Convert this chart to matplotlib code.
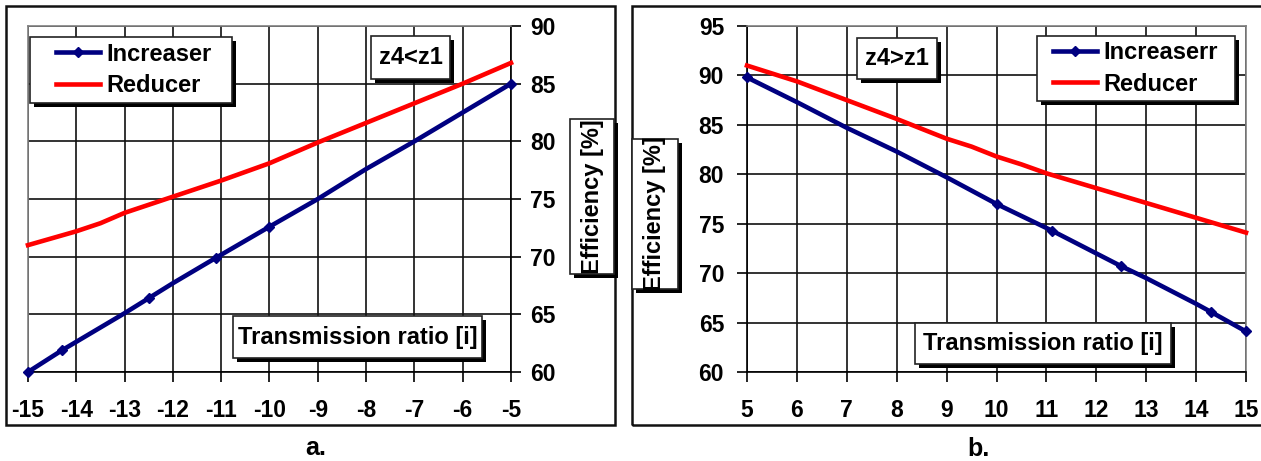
import matplotlib
matplotlib.use("Agg")
import matplotlib.pyplot as plt
from matplotlib.patches import Rectangle

plt.rcParams["font.family"] = ["Liberation Sans", "DejaVu Sans"]
plt.rcParams["font.weight"] = "bold"
plt.rcParams["axes.unicode_minus"] = False

# ---- data: panel a (z4 < z1), negative transmission ratios ----
a_inc_x = [-15, -14.29, -13, -12.5, -12, -11.11, -10, -9, -8, -7, -6, -5]
a_inc_y = [60.0, 61.9, 65.1, 66.4, 67.7, 69.9, 72.6, 75.0, 77.6, 80.0, 82.5, 85.0]
a_inc_marks = [0, 1, 3, 5, 6, 11]
a_red_x = [-15, -14, -13.5, -13, -12, -11, -10, -9, -8, -7, -6, -5]
a_red_y = [71.0, 72.2, 72.9, 73.8, 75.2, 76.6, 78.1, 79.9, 81.6, 83.3, 85.0, 86.8]

# ---- data: panel b (z4 > z1), positive transmission ratios ----
b_inc_x = [5, 6, 7, 8, 9, 10, 11.11, 12.5, 13, 14, 14.29, 15]
b_inc_y = [89.8, 87.3, 84.7, 82.3, 79.7, 77.0, 74.3, 70.7, 69.5, 66.9, 66.1, 64.1]
b_inc_marks = [0, 5, 6, 7, 10, 11]
b_red_x = [5, 6, 7, 8, 9, 9.5, 10, 10.5, 11, 12, 13, 14, 15]
b_red_y = [91.0, 89.4, 87.5, 85.6, 83.6, 82.8, 81.8, 81.0, 80.1, 78.6, 77.1, 75.6, 74.1]

a_xticks = list(range(-15, -4))
b_xticks = list(range(5, 16))
a_yticks = [60, 65, 70, 75, 80, 85, 90]
b_yticks = [60, 65, 70, 75, 80, 85, 90, 95]

W, H = 1261, 461
fig = plt.figure(figsize=(W / 100, H / 100), dpi=100)

NAVY = "#000080"
RED = "#ff0000"
GRID = "#111111"
GRAY = "#808080"
FS_TICK = 16.5
FS_TEXT = 17
LW = 3.3


def fx(x):
    return x / W


def fy(y):
    return 1 - y / H


def axes_px(x0, y0, x1, y1):
    return fig.add_axes([fx(x0), fy(y1), fx(x1) - fx(x0), fy(y0) - fy(y1)])


def panel_frame(x0, y0, x1, y1):
    fig.add_artist(Rectangle((fx(x0), fy(y1)), fx(x1) - fx(x0), fy(y0) - fy(y1),
                             transform=fig.transFigure, facecolor="none",
                             edgecolor="#111111", lw=1.8, zorder=1))


def shadow_box(x0, y0, x1, y1, off=4):
    fig.add_artist(Rectangle((fx(x0 + off), fy(y1 + off)), fx(x1) - fx(x0), fy(y0) - fy(y1),
                             transform=fig.transFigure, facecolor="black",
                             edgecolor="black", lw=0, zorder=10))
    fig.add_artist(Rectangle((fx(x0), fy(y1)), fx(x1) - fx(x0), fy(y0) - fy(y1),
                             transform=fig.transFigure, facecolor="white",
                             edgecolor="#222222", lw=1.2, zorder=11))


def label_box(x0, y0, x1, y1, text, rotation=0):
    shadow_box(x0, y0, x1, y1)
    fig.text(fx((x0 + x1) / 2), fy((y0 + y1) / 2), text, ha="center", va="center",
             fontsize=FS_TEXT, fontweight="bold", rotation=rotation, zorder=12)


def style_axes(ax, yside):
    ax.grid(True, color=GRID, lw=1.2)
    ax.set_axisbelow(True)
    ax.tick_params(axis="both", direction="out", length=7, width=1.2, color="black",
                   labelsize=FS_TICK)
    ax.tick_params(axis="x", pad=12.5)
    for lab in ax.get_xticklabels() + ax.get_yticklabels():
        lab.set_fontweight("bold")
    if yside == "right":
        ax.yaxis.tick_right()
        ax.tick_params(axis="y", pad=7)
        for s in ("right", "bottom"):
            ax.spines[s].set_color("black")
        for s in ("left", "top"):
            ax.spines[s].set_color(GRAY)
    else:
        ax.tick_params(axis="y", pad=9.5)
        for s in ("left", "bottom"):
            ax.spines[s].set_color("black")
        for s in ("right", "top"):
            ax.spines[s].set_color(GRAY)
    for s in ax.spines.values():
        s.set_linewidth(1.2)


def legend_box(x0, y0, x1, y1, handles, labels, hx):
    shadow_box(x0, y0, x1, y1)
    leg = fig.legend(handles, labels, loc="center left",
                     bbox_to_anchor=(fx(hx), fy((y0 + y1) / 2)),
                     frameon=False, borderpad=0, borderaxespad=0,
                     handlelength=1.85, handletextpad=0.3, labelspacing=0.36,
                     prop={"size": FS_TEXT, "weight": "bold"})
    leg.set_zorder(12)


# ---------------- panel a ----------------
panel_frame(6, 6, 615, 425)
ax1 = axes_px(28, 26, 511, 372)
l_inc_a, = ax1.plot(a_inc_x, a_inc_y, color=NAVY, lw=LW, marker="D", markersize=5,
                    markevery=a_inc_marks, clip_on=False, zorder=3)
l_red_a, = ax1.plot(a_red_x, a_red_y, color=RED, lw=LW, clip_on=False, zorder=3)
ax1.set_xlim(-15, -5)
ax1.set_ylim(60, 90)
ax1.set_xticks(a_xticks)
ax1.set_yticks(a_yticks)
style_axes(ax1, "right")

legend_box(30, 37, 232, 103, [l_inc_a, l_red_a], ["Increaser", "Reducer"], 56)
label_box(371, 36, 450, 79, "z4<z1")
label_box(233, 316, 482, 358, "Transmission ratio [i]")
label_box(570, 119, 614, 274, "Efficiency [%]", rotation=90)
fig.text(fx(316), fy(448), "a.", ha="center", va="center", fontsize=18, fontweight="bold")

# ---------------- panel b ----------------
panel_frame(632, 6, 1265, 425)
ax2 = axes_px(747, 26, 1246, 372)
l_inc_b, = ax2.plot(b_inc_x, b_inc_y, color=NAVY, lw=LW, marker="D", markersize=5,
                    markevery=b_inc_marks, clip_on=False, zorder=3)
l_red_b, = ax2.plot(b_red_x, b_red_y, color=RED, lw=LW, clip_on=False, zorder=3)
ax2.set_xlim(5, 15)
ax2.set_ylim(60, 95)
ax2.set_xticks(b_xticks)
ax2.set_yticks(b_yticks)
style_axes(ax2, "left")

legend_box(1037, 36, 1235, 101, [l_inc_b, l_red_b], ["Increaserr", "Reducer"], 1053)
label_box(857, 38, 937, 79, "z4>z1")
label_box(915, 323, 1171, 364, "Transmission ratio [i]")
label_box(632, 139, 678, 289, "Efficiency [%]", rotation=90)
fig.text(fx(978), fy(449), "b.", ha="center", va="center", fontsize=18, fontweight="bold")

fig.savefig("out.png", dpi=100)
